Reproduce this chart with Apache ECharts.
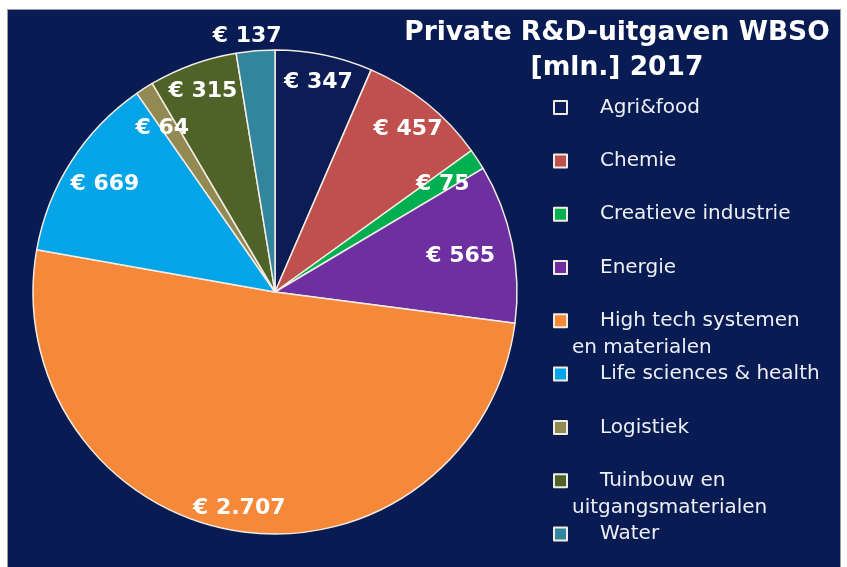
<!DOCTYPE html>
<html>
<head>
<meta charset="utf-8">
<script src="https://cdn.jsdelivr.net/npm/echarts@6/dist/echarts.min.js"></script>
<style>
  html, body { margin: 0; padding: 0; background: #ffffff; }
  #panel { position: absolute; left: 7px; top: 9px; width: 832px; height: 560px;
           background: #081b52; border-left: 1px solid #9a9aa2; border-top: 1px solid #9a9aa2; border-right: 1px solid #9a9aa2; }
  #main { position: absolute; left: 0; top: 0; width: 847px; height: 567px; }
</style>
</head>
<body>
<div id="panel"></div>
<div id="main"></div>
<script>
// ---- data ----
const titleText = 'Private R&D-uitgaven WBSO\n[mln.] 2017';
const categories = [
  'Agri&food',
  'Chemie',
  'Creatieve industrie',
  'Energie',
  'High tech systemen\nen materialen',
  'Life sciences & health',
  'Logistiek',
  'Tuinbouw en\nuitgangsmaterialen',
  'Water'
];
const values = [347, 457, 75, 565, 2707, 669, 64, 315, 137];
const colors = ['#0c1d56', '#c0504d', '#00b050', '#6e2fa0', '#f6883a', '#03a4e8', '#938953', '#4f6228', '#31859c'];

// ---- label nudges (style only, in px) ----
const labelShift = [
  [1, -5],
  [2, 0],
  [-7, 7],
  [-19, 6],
  [-4, 10],
  [6, 5],
  [0, 12],
  [-1, -4],
  [-11, -47]
];
function euro(v) {
  return '€ ' + String(v).replace(/\B(?=(\d{3})+(?!\d))/g, '.');
}
const FONT = 'DejaVu Sans';
const LH = 26.6;

const mainData = categories.map((n, i) => ({ name: n, value: values[i], itemStyle: { color: colors[i] } }));
const labelData = categories.map((n, i) => ({ name: n, value: values[i] }));

const chart = echarts.init(document.getElementById('main'), null, { renderer: 'canvas' });
chart.setOption({
  backgroundColor: 'transparent',
  animation: false,
  title: {
    text: titleText,
    left: 617,
    top: 16,
    padding: 0,
    textAlign: 'center',
    textStyle: { color: '#ffffff', fontFamily: FONT, fontWeight: 'bold', fontSize: 26.5, lineHeight: 35 }
  },
  legend: {
    orient: 'vertical',
    left: 553,
    top: 71,
    height: 540,
    padding: 0,
    itemWidth: 13,
    itemHeight: 13,
    itemGap: -19.9,
    icon: 'rect',
    data: categories,
    formatter: function (name) {
      const parts = name.split('\n');
      return '{s| }\n{a|' + parts[0] + '}\n' + (parts[1] ? '{c|' + parts[1] + '}' : '{s| }');
    },
    textStyle: {
      color: '#eef0f6',
      fontFamily: FONT,
      fontSize: 20,
      rich: {
        s: { fontSize: 20, lineHeight: LH, fontFamily: FONT, color: '#eef0f6' },
        a: { fontSize: 20, lineHeight: LH, fontFamily: FONT, color: '#eef0f6', padding: [0, 0, 0, 28] },
        c: { fontSize: 20, lineHeight: LH, fontFamily: FONT, color: '#eef0f6' }
      }
    }
  },
  series: [
    {
      name: 'WBSO',
      type: 'pie',
      center: [275, 292],
      radius: [0, 242],
      startAngle: 90,
      clockwise: true,
      silent: true,
      label: { show: false },
      labelLine: { show: false },
      itemStyle: { borderColor: '#f3ece4', borderWidth: 1.5 },
      data: mainData
    },
    {
      name: 'labels',
      type: 'pie',
      center: [275, 292],
      radius: [170, 242],
      startAngle: 90,
      clockwise: true,
      silent: true,
      avoidLabelOverlap: false,
      z: 5,
      itemStyle: { color: 'rgba(0,0,0,0)', borderWidth: 0 },
      labelLine: { show: false },
      label: {
        show: true,
        position: 'inside',
        formatter: function (p) { return euro(p.value); },
        color: '#ffffff',
        fontFamily: FONT,
        fontWeight: 'bold',
        fontSize: 22
      },
      labelLayout: function (p) {
        const s = labelShift[p.dataIndex];
        return { dx: s[0], dy: s[1], hideOverlap: false };
      },
      data: labelData
    }
  ]
});
</script>
</body>
</html>
